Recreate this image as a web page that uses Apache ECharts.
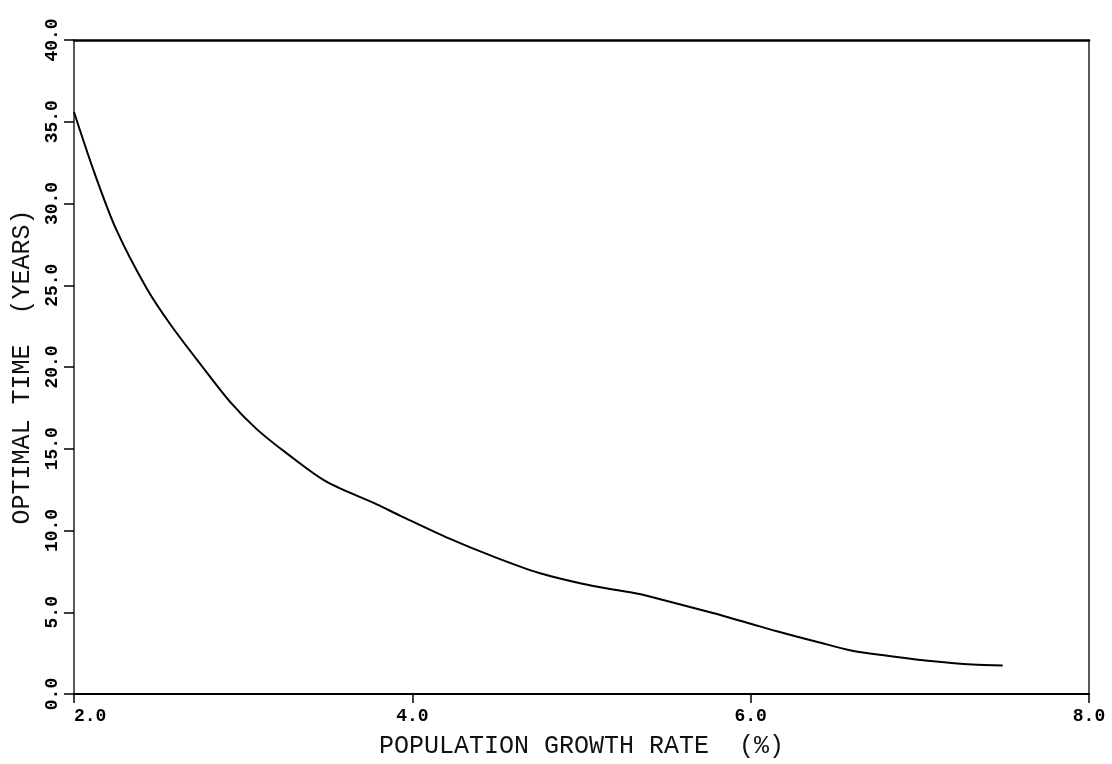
<!DOCTYPE html>
<html>
<head>
<meta charset="utf-8">
<script src="https://cdn.jsdelivr.net/npm/echarts@6/dist/echarts.min.js"></script>
<style>
html,body{margin:0;padding:0;background:#fff;}
#chart{width:1112px;height:764px;}
</style>
</head>
<body>
<div id="chart"></div>
<script>
// Data
var growthRate = [2.0, 2.12, 2.25, 2.43, 2.57, 2.76, 2.92, 3.08, 3.26, 3.49, 3.79, 3.93, 4.22, 4.48, 4.75, 5.07, 5.35, 5.5, 5.76, 6.0, 6.15, 6.39, 6.6, 6.84, 7.08, 7.31, 7.49];
var optimalTime = [35.6, 31.9, 28.4, 24.8, 22.6, 20.0, 17.9, 16.2, 14.7, 13.0, 11.6, 10.9, 9.5, 8.4, 7.4, 6.6, 6.1, 5.7, 5.0, 4.3, 3.85, 3.2, 2.65, 2.3, 2.0, 1.8, 1.75];
var xTicks = [2.0, 4.0, 6.0, 8.0];
var yTicks = [0, 5, 10, 15, 20, 25, 30, 35, 40];
var xTitle = 'POPULATION GROWTH RATE  (%)';
var yTitle = 'OPTIMAL TIME  (YEARS)';

var points = growthRate.map(function (x, i) { return [x, optimalTime[i]]; });
var monoFont = '"Liberation Mono", "DejaVu Sans Mono", monospace';

var chart = echarts.init(document.getElementById('chart'));
chart.setOption({
  backgroundColor: '#ffffff',
  animation: false,
  grid: { left: 74, right: 23, top: 40, bottom: 66, containLabel: false },
  xAxis: [{
    type: 'value',
    min: xTicks[0], max: xTicks[xTicks.length - 1], interval: 2,
    name: xTitle, nameLocation: 'middle', nameGap: 40,
    nameTextStyle: { fontFamily: monoFont, fontSize: 25, color: '#111' },
    axisLine: { show: true, onZero: false, lineStyle: { color: '#000', width: 2 } },
    axisTick: { show: true, inside: false, length: 9, lineStyle: { color: '#000', width: 1.5 } },
    axisLabel: { margin: 13, fontFamily: monoFont, fontWeight: 'bold', fontSize: 18, color: '#000',
      alignMinLabel: 'left',
      formatter: function (v) { return v.toFixed(1); } },
    splitLine: { show: false }
  }, {
    type: 'value', position: 'top',
    min: xTicks[0], max: xTicks[xTicks.length - 1], interval: 2,
    axisLine: { show: true, onZero: false, lineStyle: { color: '#000', width: 2.5 } },
    axisTick: { show: false }, axisLabel: { show: false }, splitLine: { show: false }
  }],
  yAxis: [{
    type: 'value',
    min: yTicks[0], max: yTicks[yTicks.length - 1], interval: 5,
    name: yTitle, nameLocation: 'middle', nameGap: 38, nameRotate: 90,
    nameTextStyle: { fontFamily: monoFont, fontSize: 25, color: '#111' },
    axisLine: { show: true, onZero: false, lineStyle: { color: '#222', width: 1.5 } },
    axisTick: { show: true, inside: false, length: 10, lineStyle: { color: '#000', width: 1.5 } },
    axisLabel: { margin: 13, rotate: 90, fontFamily: monoFont, fontWeight: 'bold', fontSize: 18, color: '#000',
      formatter: function (v) { return v.toFixed(1); } },
    splitLine: { show: false }
  }, {
    type: 'value', position: 'right',
    min: yTicks[0], max: yTicks[yTicks.length - 1], interval: 5,
    axisLine: { show: true, onZero: false, lineStyle: { color: '#222', width: 1.5 } },
    axisTick: { show: false }, axisLabel: { show: false }, splitLine: { show: false }
  }],
  series: [{
    type: 'line',
    xAxisIndex: 0, yAxisIndex: 0,
    data: points,
    smooth: 0.3,
    showSymbol: false,
    lineStyle: { color: '#000', width: 2 }
  }]
});
</script>
</body>
</html>
